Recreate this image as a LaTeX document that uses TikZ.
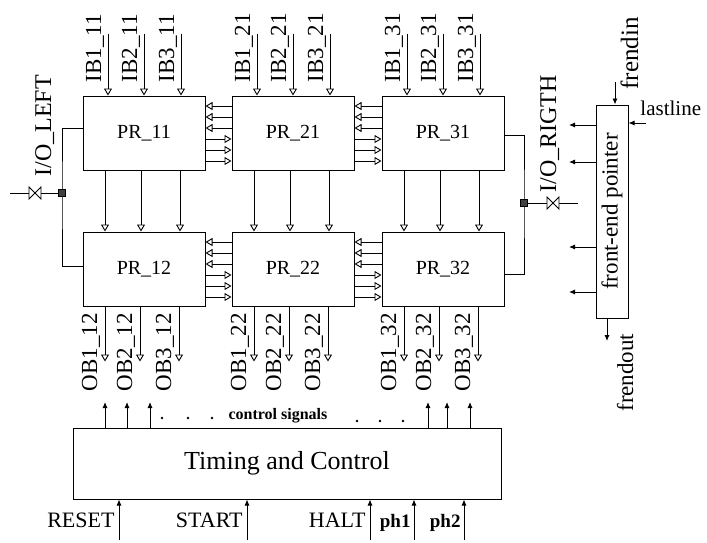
\documentclass[tikz,border=0pt]{standalone}
\usepackage{fontspec}
\setmainfont{Liberation Serif}
\usetikzlibrary{positioning,calc,arrows.meta}

\begin{document}
\begin{tikzpicture}[
  x=1pt, y=-1pt,
  line width=0.9pt,
  pr/.style={draw,line width=1pt,minimum width=122pt,minimum height=74pt,inner sep=0pt,font=\fontsize{20}{20}\selectfont},
  sig/.style={inner sep=0pt,font=\fontsize{23}{23}\selectfont},
  vsig/.style={sig,rotate=90,anchor=base west},
  opentip/.style={-{Triangle[open,length=7pt,width=8pt]}},
  solidtip/.style={-{Latex[length=6pt,width=5pt]}},
  iosq/.style={draw,fill=black!75,minimum size=7pt,inner sep=0pt}
  ]

   \useasboundingbox (0,0) rectangle (707,542);

   \node (pr11) [pr] at (144,133) {PR\_11};
   \node (pr21) [pr,right=26pt of pr11] {PR\_21};
   \node (pr31) [pr,right=27pt of pr21] {PR\_31};
   \node (pr12) [pr,below=61pt of pr11] {PR\_12};
   \node (pr22) [pr,below=61pt of pr21] {PR\_22};
   \node (pr32) [pr,below=61pt of pr31] {PR\_32};

   \foreach \c/\k in {pr11/11,pr21/21,pr31/31}
     \foreach \i/\dx in {1/-36,2/0,3/37} {
       \coordinate (ib\i\k) at ($(\c.north)+(\dx,-62)$);
       \draw [opentip] (ib\i\k) -- (ib\i\k |- \c.north);
       \node [vsig] at ($(ib\i\k)+(-7,49)$) {IB\i\_\k};
     }

   \foreach \u/\l in {pr11/pr12,pr21/pr22,pr31/pr32}
     \foreach \dx in {-39,-3,36}
       \draw [opentip] ($(\u.south)+(\dx,0)$) -- ($(\l.north)+(\dx,0)$);

   \foreach \c/\k in {pr12/12,pr22/22,pr32/32}
     \foreach \i/\dx in {1/-39,2/-4,3/35} {
       \coordinate (ob\i\k) at ($(\c.south)+(\dx,55)$);
       \draw [opentip] (ob\i\k |- \c.south) -- (ob\i\k);
       \node [vsig] at ($(ob\i\k)+(-8,30)$) {OB\i\_\k};
     }

   \foreach \a/\b in {pr11/pr21,pr21/pr31,pr12/pr22,pr22/pr32} {
     \foreach \dy in {-27,-16,-5}
       \draw [opentip] ($(\b.west)+(0,\dy)$) -- ($(\a.east)+(0,\dy)$);
     \foreach \dy in {6,17,28}
       \draw [opentip] ($(\a.east)+(0,\dy)$) -- ($(\b.west)+(0,\dy)$);
   }

   \coordinate (iol) at (62,193);
   \coordinate (iolin) at (10,193);
   \draw ($(pr11.west)+(0,-5)$) -| (iol) |- ($(pr12.west)+(0,-3)$);
   \draw (iolin) -- (iol);
   \draw [fill=white,shift={(35,193)}] (-6,-6) -- (6,6) -- (6,-6) -- (-6,6) -- cycle;
   \node (iolsq) [iosq] at (iol) {};
   \node (iolleft) [vsig,font=\fontsize{24}{24}\selectfont] at (51,177) {I/O\_LEFT};

   \coordinate (ior) at (524,203);
   \coordinate (iorin) at (578,203);
   \draw ($(pr31.east)+(0,2)$) -| (ior) |- ($(pr32.east)+(0,5)$);
   \draw (ior) -- (iorin);
   \draw [fill=white,shift={(553,203)}] (-6,-6) -- (6,6) -- (6,-6) -- (-6,6) -- cycle;
   \node (iorsq) [iosq] at (ior) {};
   \node (iorright) [vsig,font=\fontsize{24}{24}\selectfont] at (556,193) {I/O\_RIGTH};

   \node (fep) [draw,line width=1pt,minimum width=32pt,minimum height=213pt,inner sep=0pt,font=\fontsize{23}{23}\selectfont] at (612,211.5) {\rotatebox{90}{front-end pointer}};
   \foreach \y in {125,162,247,292} {
     \coordinate (fl\y) at (569,\y);
     \draw [solidtip] (fl\y -| fep.west) -- (fl\y);
   }
   \coordinate (fin) at (615,82);
   \draw [solidtip] (fin) -- (fin |- fep.north);
   \node (frendin) [vsig,font=\fontsize{25}{25}\selectfont] at (638,90) {frendin};
   \coordinate (lst) at (646,123);
   \draw [solidtip] (lst) -- (lst -| fep.east);
   \node (lastline) [sig,anchor=base west,font=\fontsize{21}{21}\selectfont] at (640,115) {lastline};
   \coordinate (fout) at (607,341);
   \draw [solidtip] (fout |- fep.south) -- (fout);
   \node (frendout) [vsig] at (633,412) {frendout};

   \node (tc) [draw,line width=1pt,minimum width=428pt,minimum height=71pt,font=\fontsize{26}{26}\selectfont] at (287,463.5) {Timing and Control};
   \foreach \x in {105,127,150,428,447,470} {
     \coordinate (cs\x) at (\x,402);
     \draw [solidtip] (cs\x |- tc.north) -- (cs\x);
   }
   \foreach \x/\y in {162/418,188/418,212/418,357/421,380/421,403/421}
     \fill (\x,\y) circle (1.3pt);
   \node (ctrl) [font=\bfseries\fontsize{16}{16}\selectfont] at (278,416) {control signals};

   \foreach \x/\t in {119/RESET,247/START,370/HALT} {
     \coordinate (in\t) at (\x,540);
     \draw [solidtip] (in\t) -- (in\t |- tc.south);
     \node [sig,anchor=base east,font=\fontsize{22}{22}\selectfont] at ($(in\t)+(-4,-13)$) {\t};
   }
   \foreach \x/\t in {414/ph1,464/ph2} {
     \coordinate (in\t) at (\x,540);
     \draw [solidtip] (in\t) -- (in\t |- tc.south);
     \node [sig,anchor=base east,font=\bfseries\fontsize{19}{19}\selectfont] at ($(in\t)+(-3,-13)$) {\t};
   }

\end{tikzpicture}
\end{document}
